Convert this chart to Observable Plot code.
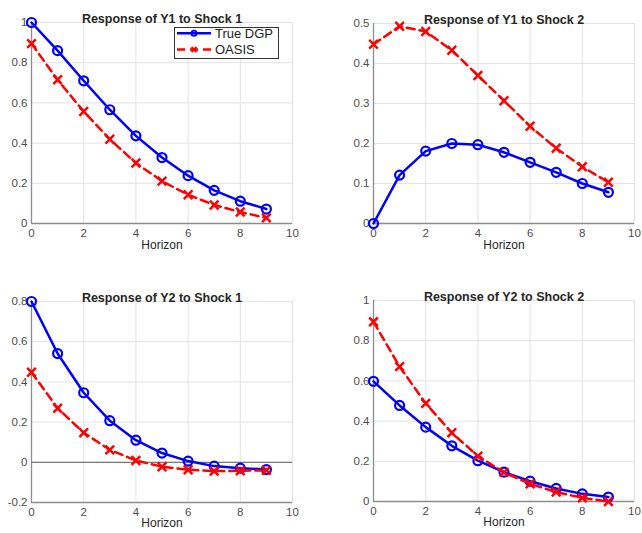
<!DOCTYPE html>
<html><head><meta charset="utf-8">
<script src="https://cdn.jsdelivr.net/npm/d3@7"></script>
<script src="https://cdn.jsdelivr.net/npm/@observablehq/plot@0.6"></script>
<style>
body{margin:0;background:#fff;}
#fig{position:relative;width:642px;height:533px;font-family:"Liberation Sans",Arial,sans-serif;overflow:hidden;}
.panel{position:absolute;}
#legend{position:absolute;left:174px;top:27px;}
</style></head><body><div id="fig"></div>
<script>
const horizon = [0, 1, 2, 3, 4, 5, 6, 7, 8, 9];
const xTicks = [0, 2, 4, 6, 8, 10];
const seriesNames = ["True DGP", "OASIS"];
const titles = ["Response of Y1 to Shock 1", "Response of Y1 to Shock 2", "Response of Y2 to Shock 1", "Response of Y2 to Shock 2"];
const xLabel = "Horizon";

const trueY1S1 = [1.0, 0.860, 0.710, 0.566, 0.436, 0.328, 0.238, 0.165, 0.111, 0.072];
const oasisY1S1 = [0.895, 0.715, 0.557, 0.419, 0.301, 0.211, 0.143, 0.092, 0.057, 0.028];
const trueY1S2 = [0.0, 0.121, 0.181, 0.200, 0.197, 0.178, 0.153, 0.128, 0.100, 0.078];
const oasisY1S2 = [0.448, 0.493, 0.480, 0.433, 0.370, 0.307, 0.243, 0.188, 0.142, 0.103];
const trueY2S1 = [0.800, 0.541, 0.346, 0.207, 0.110, 0.046, 0.006, -0.019, -0.029, -0.036];
const oasisY2S1 = [0.448, 0.269, 0.147, 0.062, 0.009, -0.022, -0.037, -0.044, -0.042, -0.040];
const trueY2S2 = [0.598, 0.478, 0.370, 0.277, 0.203, 0.146, 0.101, 0.065, 0.038, 0.022];
const oasisY2S2 = [0.894, 0.671, 0.488, 0.342, 0.226, 0.145, 0.088, 0.047, 0.018, 0.0];

const yTicks1 = [0, 0.2, 0.4, 0.6, 0.8, 1];
const yTicks2 = [0, 0.1, 0.2, 0.3, 0.4, 0.5];
const yTicks3 = [-0.2, 0, 0.2, 0.4, 0.6, 0.8];
const yTicks4 = [0, 0.2, 0.4, 0.6, 0.8, 1];

const toRows = arr => horizon.map((h, i) => ({h, v: arr[i]}));
const fmt = d => String(Math.round(d * 10) / 10);

const panels = [
  {left: 0, top: 0, w: 321, h: 266, mL: 31, mR: 29, mT: 22, mB: 43, dom: [0, 1], ticks: yTicks1, tr: trueY1S1, oa: oasisY1S1, title: titles[0], ldy: 25},
  {left: 321, top: 0, w: 321, h: 266, mL: 52, mR: 8, mT: 23, mB: 43, dom: [0, 0.5], ticks: yTicks2, tr: trueY1S2, oa: oasisY1S2, title: titles[1], ldy: 25},
  {left: 0, top: 266, w: 321, h: 267, mL: 31, mR: 29, mT: 35, mB: 31, dom: [-0.2, 0.8], ticks: yTicks3, tr: trueY2S1, oa: oasisY2S1, title: titles[2], ldy: 24, zero: true},
  {left: 321, top: 266, w: 321, h: 267, mL: 52, mR: 8, mT: 34, mB: 32, dom: [0, 1], ticks: yTicks4, tr: trueY2S2, oa: oasisY2S2, title: titles[3], ldy: 24}
];

const fig = document.getElementById("fig");
const gridC = "#e3e3e3", axisC = "#8c8c8c", tickC = "#4d4d4d", textC = "#262626";

for (const p of panels) {
  const tr = toRows(p.tr), oa = toRows(p.oa);
  const marks = [
    Plot.gridX(xTicks, {stroke: gridC, strokeOpacity: 1, strokeWidth: 1}),
    Plot.gridY(p.ticks, {stroke: gridC, strokeOpacity: 1, strokeWidth: 1}),
    Plot.frame({stroke: gridC, strokeWidth: 1}),
    Plot.axisX(xTicks, {tickSize: 0, tickPadding: 5, label: null, tickFormat: fmt, fill: tickC, fontSize: 11.5}),
    Plot.axisY(p.ticks, {tickSize: 0, tickPadding: 4, label: null, tickFormat: fmt, fill: tickC, fontSize: 11.5}),
    Plot.ruleX([0], {stroke: axisC, strokeWidth: 1.3}),
    Plot.ruleY([p.dom[0]], {stroke: axisC, strokeWidth: 1.3})
  ];
  if (p.zero) marks.push(Plot.ruleY([0], {stroke: "#7a7a7a", strokeWidth: 1.3}));
  marks.push(
    Plot.line(tr, {x: "h", y: "v", stroke: "#0000ff", strokeWidth: 2.5}),
    Plot.dot(tr, {x: "h", y: "v", r: 4.5, stroke: "#0000ff", strokeWidth: 2.2, fill: "none"}),
    Plot.line(oa, {x: "h", y: "v", stroke: "#ff0000", strokeWidth: 2.5, strokeDasharray: "8,5"}),
    Plot.dot(oa, {x: "h", y: "v", r: 4, symbol: "times", stroke: "#ff0000", strokeWidth: 2.5}),
    Plot.text([p.title], {text: d => d, frameAnchor: "top", dy: -8, fontWeight: "bold", fontSize: 12.5, fill: textC}),
    Plot.text([xLabel], {text: d => d, frameAnchor: "bottom", dy: p.ldy, fontSize: 12, fill: textC})
  );
  const svg = Plot.plot({
    width: p.w, height: p.h,
    marginLeft: p.mL, marginRight: p.mR, marginTop: p.mT, marginBottom: p.mB,
    style: {fontFamily: "'Liberation Sans', Arial, sans-serif", fontSize: "11px", background: "transparent", overflow: "visible"},
    x: {domain: [0, 10]},
    y: {domain: p.dom},
    marks
  });
  svg.classList.add("panel");
  svg.style.left = p.left + "px";
  svg.style.top = p.top + "px";
  fig.appendChild(svg);
}

// legend (panel 1)
const lg = document.createElement("div");
lg.id = "legend";
lg.innerHTML = `<svg width="105" height="32" xmlns="http://www.w3.org/2000/svg" style="font-family:'Liberation Sans',Arial,sans-serif">
  <rect x="0.5" y="0.5" width="104" height="31" fill="#fff" stroke="#333" stroke-width="1"/>
  <line x1="3" x2="37" y1="6.3" y2="6.3" stroke="#0000ff" stroke-width="2.5"/>
  <circle cx="20" cy="6.3" r="2.6" fill="none" stroke="#0000ff" stroke-width="1.8"/>
  <text x="41" y="6.8" dominant-baseline="central" font-size="13" fill="#222">${seriesNames[0]}</text>
  <line x1="3" x2="37" y1="22.5" y2="22.5" stroke="#ff0000" stroke-width="2.5" stroke-dasharray="8,5"/>
  <path d="M17.5,20 L22.5,25 M22.5,20 L17.5,25" stroke="#ff0000" stroke-width="2"/>
  <text x="41" y="22.5" dominant-baseline="central" font-size="13" fill="#222">${seriesNames[1]}</text>
</svg>`;
fig.appendChild(lg);
</script>
</body></html>
